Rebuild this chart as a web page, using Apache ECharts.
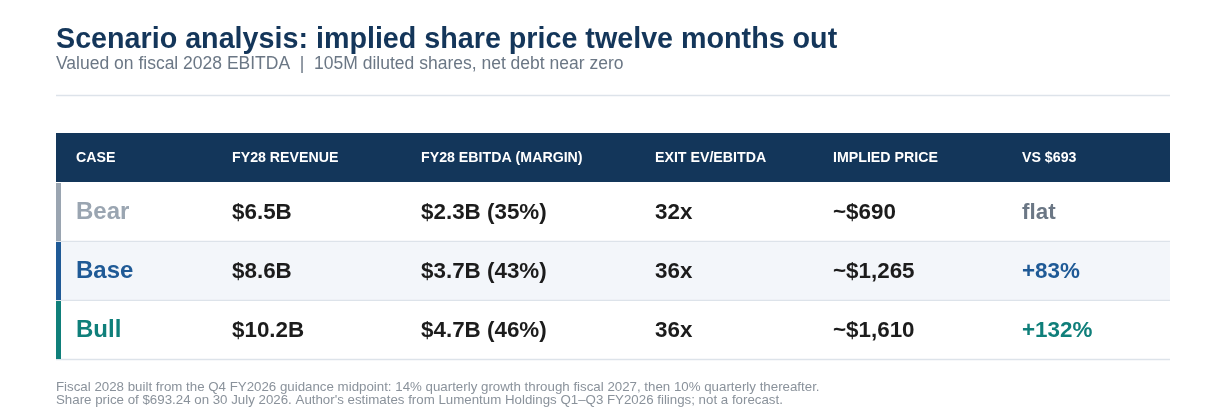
<!DOCTYPE html>
<html>
<head>
<meta charset="utf-8">
<title>Scenario analysis</title>
<style>
html, body { margin: 0; padding: 0; background: #fff; }
#chart { width: 1226px; height: 412px; }
</style>
<script src="https://cdn.jsdelivr.net/npm/echarts@6/dist/echarts.min.js"></script>
</head>
<body>
<div id="chart"></div>
<script>
// table data
const columns = ['CASE', 'FY28 REVENUE', 'FY28 EBITDA (MARGIN)', 'EXIT EV/EBITDA', 'IMPLIED PRICE', 'VS $693'];
const cases = ['Bear', 'Base', 'Bull'];
const revenue = ['$6.5B', '$8.6B', '$10.2B'];
const ebitda = ['$2.3B (35%)', '$3.7B (43%)', '$4.7B (46%)'];
const exitMultiple = ['32x', '36x', '36x'];
const impliedPrice = ['~$690', '~$1,265', '~$1,610'];
const vsCurrent = ['flat', '+83%', '+132%'];

// layout / style
const FONT = '"Liberation Sans", Arial, Helvetica, sans-serif';
const TABLE_W = 1114;
const colLeft = [20, 176, 365, 599, 777, 966];
const caseColor = ['#9aa5b1', '#1f5a96', '#0f7f7a'];
const vsColor = ['#6b7785', '#1f5a96', '#0f7f7a'];
const navy = '#13365a';
const rule = '#dde3ea';

const chart = echarts.init(document.getElementById('chart'));

function renderHeader(params, api) {
  const c = api.coord([0, 0]);
  const h = api.size([0, 1])[1];
  const x0 = params.coordSys.x;
  const w = params.coordSys.width;
  const top = c[1] - h / 2;
  const children = [{
    type: 'rect',
    shape: { x: x0, y: top, width: w, height: h },
    style: { fill: navy }
  }];
  columns.forEach((name, j) => {
    const p = api.coord([colLeft[j], 0]);
    children.push({
      type: 'text',
      style: {
        x: p[0], y: p[1] + 0.5, text: name,
        fill: '#ffffff', font: 'bold 14.2px ' + FONT,
        textAlign: 'left', textVerticalAlign: 'middle'
      }
    });
  });
  return { type: 'group', children: children };
}

function renderRow(params, api) {
  const i = api.value(1);
  const c = api.coord([0, i]);
  const h = api.size([0, 1])[1];
  const x0 = params.coordSys.x;
  const w = params.coordSys.width;
  const top = c[1] - h / 2;
  const cells = [cases[i], revenue[i], ebitda[i], exitMultiple[i], impliedPrice[i], vsCurrent[i]];
  const children = [
    { type: 'rect', shape: { x: x0, y: top, width: w, height: h }, style: { fill: i % 2 ? '#f3f6fa' : '#ffffff' } },
    { type: 'line', shape: { x1: x0, y1: top + h - 0.5, x2: x0 + w, y2: top + h - 0.5 }, style: { stroke: rule, lineWidth: 1.5 } },
    { type: 'rect', shape: { x: x0, y: top, width: 5, height: h - 1 }, style: { fill: caseColor[i] } }
  ];
  cells.forEach((t, j) => {
    const p = api.coord([colLeft[j], i]);
    let color = '#1c1c1c';
    if (j === 0) color = caseColor[i];
    if (j === 5) color = vsColor[i];
    children.push({
      type: 'text',
      style: {
        x: p[0], y: p[1], text: t,
        fill: color, font: 'bold ' + (j === 0 ? 24 : 22.4) + 'px ' + FONT,
        textAlign: 'left', textVerticalAlign: 'middle'
      }
    });
  });
  return { type: 'group', children: children };
}

const option = {
  animation: false,
  backgroundColor: '#ffffff',
  textStyle: { fontFamily: FONT },
  title: [{
    text: 'Scenario analysis: implied share price twelve months out',
    subtext: 'Valued on fiscal 2028 EBITDA  |  105M diluted shares, net debt near zero',
    left: 56, top: 26, padding: 0, itemGap: 0,
    textStyle: { fontSize: 28.7, fontWeight: 'bold', color: '#14365a', fontFamily: FONT },
    subtextStyle: { fontSize: 17.5, color: '#6b7785', fontFamily: FONT }
  }, {
    text: 'Fiscal 2028 built from the Q4 FY2026 guidance midpoint: 14% quarterly growth through fiscal 2027, then 10% quarterly thereafter.\nShare price of $693.24 on 30 July 2026. Author\'s estimates from Lumentum Holdings Q1\u2013Q3 FY2026 filings; not a forecast.',
    left: 56, top: 381, padding: 0,
    textStyle: { fontSize: 13.3, fontWeight: 'normal', color: '#8a929b', lineHeight: 13, fontFamily: FONT }
  }],
  graphic: [{
    type: 'line',
    shape: { x1: 56, y1: 95.5, x2: 1170, y2: 95.5 },
    style: { stroke: rule, lineWidth: 1.5 }
  }],
  grid: [
    { left: 56, right: 56, top: 133, height: 49 },
    { left: 56, right: 56, top: 183, height: 177 }
  ],
  xAxis: [
    { gridIndex: 0, type: 'value', min: 0, max: TABLE_W, show: false },
    { gridIndex: 1, type: 'value', min: 0, max: TABLE_W, show: false }
  ],
  yAxis: [
    { gridIndex: 0, type: 'category', data: ['header'], show: false },
    { gridIndex: 1, type: 'category', data: cases, inverse: true, show: false }
  ],
  series: [{
    type: 'custom',
    xAxisIndex: 0, yAxisIndex: 0,
    renderItem: renderHeader,
    data: [[0, 0]],
    silent: true
  }, {
    type: 'custom',
    xAxisIndex: 1, yAxisIndex: 1,
    renderItem: renderRow,
    encode: { x: 0, y: 1 },
    data: cases.map((c, i) => [0, i]),
    silent: true
  }]
};

chart.setOption(option);
</script>
</body>
</html>
